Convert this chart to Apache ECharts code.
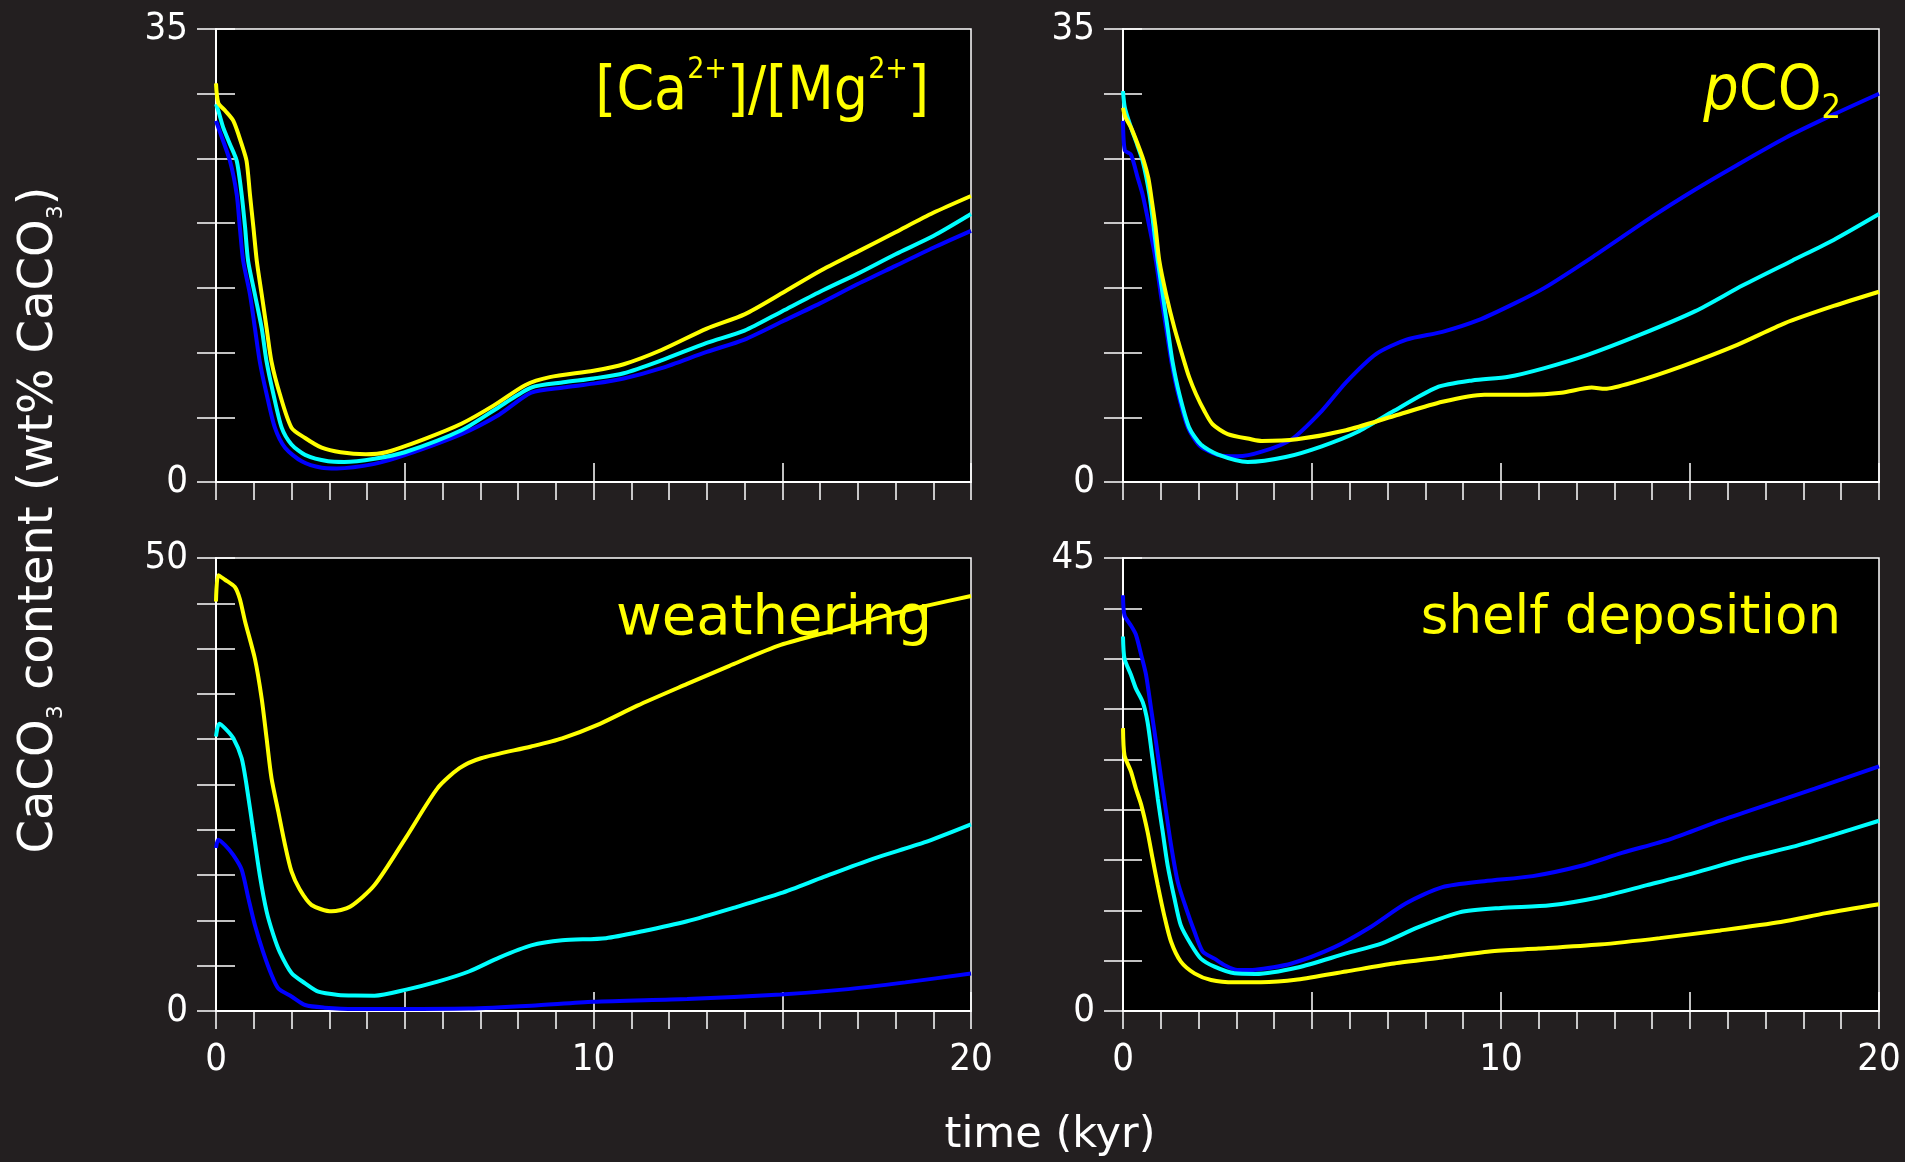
<!DOCTYPE html>
<html>
<head>
<meta charset="utf-8">
<script src="https://cdn.jsdelivr.net/npm/echarts@6/dist/echarts.min.js"></script>
<style>
  html, body { margin: 0; padding: 0; background: #231f20; }
  #chart { width: 1905px; height: 1162px; }
</style>
</head>
<body>
<div id="chart"></div>
<script>
// ---- axis ranges and tick labels ----
const timeRange = [0, 20];
const timeLabels = [0, 10, 20];
const yMaxCaMg = 35;
const yMaxPco2 = 35;
const yMaxWeathering = 50;
const yMaxShelf = 45;

// ---- [Ca2+]/[Mg2+] panel: [time kyr, wt% CaCO3] ----
const caMgBlue = [[0,27.9],[0.06,27.4],[0.37,24.8],[0.55,22.2],[0.63,19.7],[0.72,17.1],[0.9,14.5],[1.03,11.9],[1.16,9.3],[1.34,6.8],[1.56,4.2],[1.83,2.65],[2.27,1.6],[2.8,1.1],[3.2,1.05],[4.2,1.4],[5,2.07],[6.5,3.7],[7.5,5.2],[8.35,6.9],[9.2,7.3],[10,7.6],[10.8,8.0],[11.8,8.8],[13,10.05],[14,11.0],[15,12.4],[16,13.8],[17,15.3],[18,16.7],[19,18.1],[20,19.4]];
const caMgCyan = [[0,29.2],[0.06,28.7],[0.19,27.4],[0.37,26.1],[0.55,24.8],[0.68,22.2],[0.77,19.7],[0.85,17.1],[1.03,14.5],[1.21,11.9],[1.34,9.3],[1.52,6.8],[1.74,4.2],[2.0,2.9],[2.36,2.1],[2.97,1.6],[3.4,1.55],[4.2,1.8],[5,2.3],[6.5,4.0],[7.5,5.8],[8.35,7.3],[9.2,7.7],[10,8.0],[10.8,8.4],[11.8,9.4],[13,10.75],[14,11.7],[15,13.2],[16,14.7],[17,16.1],[18,17.6],[19,19.0],[20,20.7]];
const caMgYellow = [[0,30.8],[0.06,29.3],[0.24,28.7],[0.46,27.9],[0.68,26.1],[0.81,24.8],[0.9,22.2],[0.99,19.7],[1.08,17.1],[1.21,14.5],[1.34,11.9],[1.47,9.3],[1.69,6.8],[2.0,4.2],[2.36,3.4],[2.8,2.65],[3.3,2.3],[3.97,2.15],[4.5,2.3],[5.5,3.3],[6.5,4.5],[7.35,5.9],[8.2,7.5],[8.84,8.1],[10,8.6],[10.8,9.1],[11.8,10.2],[13,11.85],[14,12.95],[15,14.6],[16,16.3],[17,17.8],[18,19.3],[19,20.8],[20,22.1]];

// ---- pCO2 panel ----
const pco2Blue = [[0,27.9],[0.05,25.6],[0.21,25.3],[0.39,23.5],[0.52,22.2],[0.7,19.7],[0.87,17.1],[1.0,14.5],[1.14,11.9],[1.28,9.3],[1.46,6.8],[1.72,4.2],[2.03,2.8],[2.5,2.1],[3.03,1.98],[3.67,2.34],[4.46,3.3],[5.26,5.5],[5.9,7.7],[6.7,9.9],[7.5,11.0],[8.45,11.6],[9.4,12.5],[10.36,13.8],[11.15,15.0],[12.43,17.4],[14.0,20.5],[15.14,22.6],[16.25,24.5],[17.53,26.6],[18.8,28.4],[20,30.0]];
const pco2Cyan = [[0,30.2],[0.05,28.9],[0.21,27.4],[0.37,26.1],[0.52,24.8],[0.7,22.2],[0.81,19.7],[0.92,17.1],[1.05,14.5],[1.18,11.9],[1.31,9.3],[1.49,6.8],[1.75,4.2],[2.06,2.9],[2.5,2.14],[3.3,1.55],[4.3,1.93],[5.26,2.76],[6.2,3.86],[7.17,5.5],[8.29,7.3],[9.24,7.85],[10.2,8.13],[11.15,8.8],[12.27,9.8],[13.7,11.4],[15.14,13.2],[16.4,15.2],[17.7,17.1],[18.8,18.7],[20,20.7]];
const pco2Yellow = [[0,28.9],[0.06,28.2],[0.21,27.4],[0.39,26.1],[0.55,24.8],[0.67,23.5],[0.74,22.2],[0.86,19.7],[0.96,17.1],[1.14,14.5],[1.36,11.9],[1.62,9.3],[1.75,8.1],[1.93,6.8],[2.15,5.5],[2.37,4.46],[2.77,3.7],[3.39,3.3],[3.67,3.17],[4.6,3.3],[5.9,4.0],[7.17,5.1],[8.45,6.2],[9.56,6.75],[10.7,6.75],[11.6,6.9],[12.4,7.3],[12.75,7.2],[13.5,7.7],[14.8,8.96],[16.25,10.6],[17.5,12.26],[18.8,13.6],[20,14.7]];

// ---- weathering panel ----
const weatherBlue = [[0,18.0],[0.06,18.9],[0.24,18.3],[0.46,17.2],[0.68,15.6],[0.86,12.4],[1.03,9.5],[1.25,6.5],[1.47,4.0],[1.65,2.5],[2.0,1.6],[2.36,0.66],[2.88,0.37],[3.68,0.22],[4.2,0.22],[6.7,0.27],[8.35,0.58],[10,1.02],[12.48,1.33],[14.96,1.82],[16.6,2.36],[18.26,3.16],[20,4.13]];
const weatherCyan = [[0,30.3],[0.08,31.7],[0.24,31.2],[0.46,30.1],[0.68,27.9],[0.81,24.9],[0.99,19.8],[1.16,15.0],[1.34,11.0],[1.52,8.4],[1.69,6.5],[2.0,4.2],[2.36,3.05],[2.71,2.13],[3.24,1.77],[3.68,1.7],[4.2,1.69],[5.04,2.36],[5.87,3.24],[6.7,4.36],[7.5,5.9],[8.35,7.24],[9.17,7.8],[10.33,8.04],[11.3,8.8],[12.48,9.9],[13.8,11.5],[14.96,13.0],[16.1,14.8],[17.4,16.8],[18.76,18.6],[20,20.6]];
const weatherYellow = [[0,45.2],[0.06,48.1],[0.24,47.6],[0.5,46.8],[0.63,45.5],[0.77,43.0],[1.03,38.9],[1.21,34.5],[1.34,30.1],[1.47,25.7],[1.65,22.0],[1.83,18.3],[2.0,15.4],[2.22,13.4],[2.53,11.7],[3.06,11.0],[3.55,11.5],[4.2,13.9],[5.04,19.2],[5.87,24.6],[6.45,26.8],[7.02,27.9],[8.35,29.2],[9.17,30.1],[10.17,31.7],[11.16,33.7],[12.48,36.1],[13.6,38.1],[14.96,40.4],[16.45,42.1],[17.8,43.7],[18.9,44.8],[20,45.8]];

// ---- shelf deposition panel ----
const shelfBlue = [[0,41.3],[0.04,39.3],[0.21,38.3],[0.34,37.4],[0.48,35.4],[0.61,33.4],[0.74,30.1],[0.87,26.8],[1.01,23.1],[1.14,19.8],[1.27,16.5],[1.45,12.8],[1.67,10.2],[1.89,7.9],[2.11,5.9],[2.42,5.2],[2.68,4.57],[3.03,4.07],[3.5,4.1],[4.46,4.72],[5.58,6.32],[6.53,8.3],[7.49,10.7],[8.45,12.3],[9.56,12.9],[10.84,13.4],[12.1,14.4],[13.2,15.7],[14.5,17.1],[15.8,18.9],[17.05,20.5],[18.3,22.1],[20,24.3]];
const shelfCyan = [[0,37.2],[0.04,35.0],[0.21,33.4],[0.34,32.05],[0.52,30.7],[0.65,28.7],[0.78,25.1],[0.92,21.1],[1.05,17.8],[1.18,14.5],[1.36,11.2],[1.53,8.5],[1.8,6.6],[2.06,5.2],[2.42,4.4],[2.95,3.74],[3.5,3.68],[4.62,4.32],[5.9,5.72],[6.85,6.72],[7.8,8.3],[8.9,9.8],[10.0,10.24],[11.3,10.5],[12.6,11.3],[13.86,12.5],[15.1,13.7],[16.4,15.1],[17.7,16.3],[18.8,17.5],[20,18.9]];
const shelfYellow = [[0,28.1],[0.04,25.4],[0.21,23.8],[0.34,22.1],[0.48,20.5],[0.65,17.8],[0.78,15.2],[0.92,12.5],[1.09,9.5],[1.27,6.9],[1.53,4.9],[1.89,3.74],[2.33,3.08],[2.95,2.85],[3.65,2.85],[4.62,3.12],[5.9,3.92],[7.17,4.72],[8.45,5.32],[9.7,5.92],[11.0,6.2],[12.6,6.6],[14.2,7.24],[15.8,8.0],[17.4,8.84],[18.6,9.72],[20,10.6]];

// ---- styling ----
const BG = '#231f20';
const WHITE = '#ffffff';
const YELLOW = '#ffff00';
const CYAN = '#00ffff';
const BLUE = '#0000ff';
const NARROW = '"Liberation Sans Narrow", "DejaVu Sans Condensed", "Roboto", sans-serif';
const ROUND = '"DejaVu Sans", "Noto Sans", sans-serif';

const panels = [
  { box: { left: 216, top: 29, width: 755, height: 453 }, yMax: yMaxCaMg, xLabels: false, lines: [caMgBlue, caMgCyan, caMgYellow] },
  { box: { left: 1123, top: 29, width: 756, height: 453 }, yMax: yMaxPco2, xLabels: false, lines: [pco2Blue, pco2Cyan, pco2Yellow] },
  { box: { left: 216, top: 558, width: 755, height: 453 }, yMax: yMaxWeathering, xLabels: true, lines: [weatherBlue, weatherCyan, weatherYellow] },
  { box: { left: 1123, top: 558, width: 756, height: 453 }, yMax: yMaxShelf, xLabels: true, lines: [shelfBlue, shelfCyan, shelfYellow] }
];
const lineColors = [BLUE, CYAN, YELLOW];

const grid = [], xAxis = [], yAxis = [], series = [];
const tickStyle = { color: WHITE, width: 1.5 };

panels.forEach((p, i) => {
  grid.push(Object.assign({
    show: true, backgroundColor: '#000000', borderColor: WHITE, borderWidth: 1.5
  }, p.box));

  // time axis: outward ticks every kyr, labels at 0/10/20 on the lower row
  xAxis.push({
    gridIndex: i, type: 'value', min: timeRange[0], max: timeRange[1], interval: 1,
    position: 'bottom',
    axisLine: { show: true, onZero: false, lineStyle: { color: WHITE, width: 2 } },
    axisTick: { show: true, length: 18, lineStyle: tickStyle },
    axisLabel: {
      show: p.xLabels, color: WHITE, fontSize: 38, fontFamily: NARROW, fontWeight: 300, margin: 30,
      formatter: v => (timeLabels.indexOf(v) >= 0 ? String(v) : '')
    },
    splitLine: { show: false }
  });
  // inward ticks every 5 kyr
  xAxis.push({
    gridIndex: i, type: 'value', min: timeRange[0], max: timeRange[1], interval: 5,
    position: 'bottom',
    axisLine: { show: false, onZero: false },
    axisTick: { show: true, inside: true, length: 19, lineStyle: tickStyle },
    axisLabel: { show: false }, splitLine: { show: false }
  });

  // CaCO3 axis: ticks every 5 wt%, labels at 0 and max
  yAxis.push({
    gridIndex: i, type: 'value', min: 0, max: p.yMax, interval: 5,
    position: 'left',
    axisLine: { show: true, onZero: false, lineStyle: { color: WHITE, width: 2 } },
    axisTick: { show: true, length: 19, lineStyle: tickStyle },
    axisLabel: {
      show: true, color: WHITE, fontSize: 38, fontFamily: NARROW, fontWeight: 300, margin: 28,
      formatter: v => (v === 0 || v === p.yMax ? String(v) : '')
    },
    splitLine: { show: false }
  });
  yAxis.push({
    gridIndex: i, type: 'value', min: 0, max: p.yMax, interval: 5,
    position: 'left',
    axisLine: { show: false, onZero: false },
    axisTick: { show: true, inside: true, length: 19, lineStyle: tickStyle },
    axisLabel: { show: false }, splitLine: { show: false }
  });

  p.lines.forEach((data, k) => {
    series.push({
      type: 'line', xAxisIndex: 2 * i, yAxisIndex: 2 * i,
      data: data, showSymbol: false, symbol: 'none', smooth: 0.25,
      clip: true, silent: true,
      lineStyle: { color: lineColors[k], width: 4 },
      z: 3 + k
    });
  });
});

// panel titles and shared axis titles
const big = 60;
const graphic = [
  {
    type: 'text', x: 929, y: 93, z: 10,
    style: {
      text: '{n|[Ca}{s|2+}{n|]/[Mg}{s|2+}{n|]}',
      align: 'right', verticalAlign: 'middle',
      rich: {
        n: { fontSize: big, lineHeight: 76, fontFamily: NARROW, fontWeight: 300, fill: YELLOW },
        s: { fontSize: 30, lineHeight: 30, fontFamily: NARROW, fontWeight: 300, fill: YELLOW, verticalAlign: 'top' }
      }
    }
  },
  {
    type: 'text', x: 1841, y: 93, z: 10,
    style: {
      text: '{i|p}{n|CO}{b|2}',
      align: 'right', verticalAlign: 'middle',
      rich: {
        i: { fontSize: 62, lineHeight: 66, fontFamily: NARROW, fontWeight: 300, fontStyle: 'italic', fill: YELLOW },
        n: { fontSize: 62, lineHeight: 66, fontFamily: NARROW, fontWeight: 300, fill: YELLOW },
        b: { fontSize: 34, lineHeight: 32, fontFamily: NARROW, fontWeight: 300, fill: YELLOW, verticalAlign: 'bottom' }
      }
    }
  },
  {
    type: 'text', x: 932, y: 619, z: 10,
    style: { text: 'weathering', align: 'right', verticalAlign: 'middle', fontSize: 56, fontFamily: ROUND, fill: YELLOW }
  },
  {
    type: 'text', x: 1841, y: 619, z: 10,
    style: { text: 'shelf deposition', align: 'right', verticalAlign: 'middle', fontSize: 53, fontFamily: ROUND, fill: YELLOW }
  },
  {
    type: 'text', x: 1050, y: 1136, z: 10,
    style: { text: 'time (kyr)', align: 'center', verticalAlign: 'middle', fontSize: 43, fontFamily: ROUND, fill: WHITE }
  },
  {
    type: 'text', x: 40, y: 520, rotation: Math.PI / 2, z: 10,
    style: {
      text: '{n|CaCO}{s|3}{n| content (wt% CaCO}{s|3}{n|)}',
      align: 'center', verticalAlign: 'middle',
      rich: {
        n: { fontSize: 48, lineHeight: 54, fontFamily: ROUND, fill: WHITE },
        s: { fontSize: 22, lineHeight: 22, fontFamily: ROUND, fill: WHITE, verticalAlign: 'bottom' }
      }
    }
  }
];

const chart = echarts.init(document.getElementById('chart'), null, { renderer: 'canvas' });
chart.setOption({
  backgroundColor: BG,
  animation: false,
  grid, xAxis, yAxis, series, graphic
});
</script>
</body>
</html>
